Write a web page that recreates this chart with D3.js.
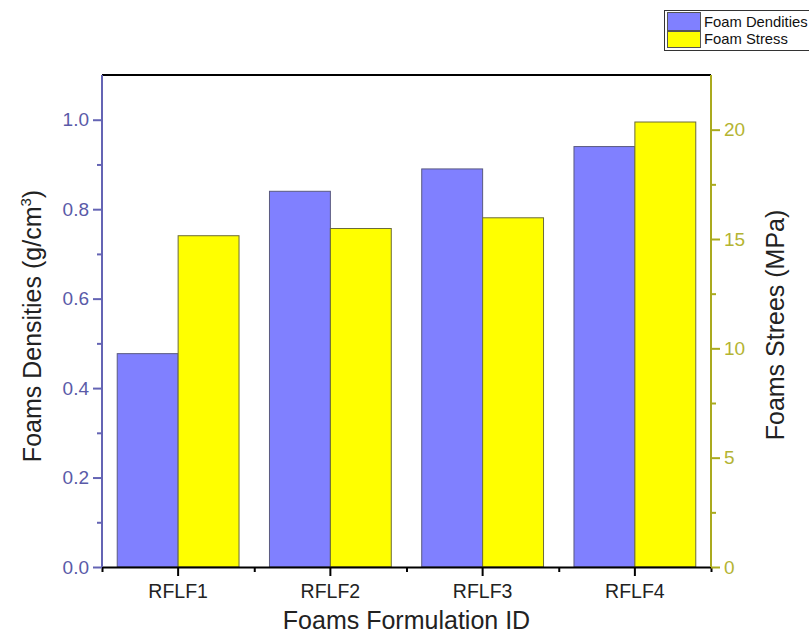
<!DOCTYPE html>
<html>
<head>
<meta charset="utf-8">
<script src="https://cdn.jsdelivr.net/npm/d3@7"></script>
<style>
  body { margin: 0; background: #fff; }
  svg text { font-family: "Liberation Sans", Arial, sans-serif; }
</style>
</head>
<body>
<div id="chart"></div>
<script>
// data
const categories = ["RFLF1", "RFLF2", "RFLF3", "RFLF4"];
const densities = [0.477, 0.84, 0.89, 0.94];   // g/cm3, left axis
const stresses = [15.15, 15.48, 15.97, 20.35]; // MPa, right axis
const densityTicks = [0, 0.2, 0.4, 0.6, 0.8, 1.0];
const stressTicks = [0, 5, 10, 15, 20];

const width = 809, height = 644;
const margin = {left: 102, right: 98, top: 75, bottom: 77};

const blue = "#8080ff", yellow = "#ffff00";
const leftCol = "#6464b4", leftText = "#5a5aa8";
const rightCol = "#aaaa1e", rightText = "#b4b432";

const svg = d3.select("#chart").append("svg")
    .attr("width", width).attr("height", height);

const x = d3.scaleBand()
    .domain(categories)
    .range([margin.left, width - margin.right])
    .paddingInner(0.2)
    .paddingOuter(0.1);

const inner = d3.scaleBand()
    .domain(["density", "stress"])
    .range([0, x.bandwidth()]);

const yL = d3.scaleLinear().domain([0, 1.1]).range([height - margin.bottom, margin.top]);
const yR = d3.scaleLinear().domain([0, 22.5]).range([height - margin.bottom, margin.top]);

const rows = categories.map((c, i) => ({cat: c, d: densities[i], s: stresses[i]}));

// bars
const g = svg.append("g");
g.selectAll(".bd").data(rows).enter().append("rect")
    .attr("x", d => x(d.cat) + inner("density"))
    .attr("y", d => yL(d.d))
    .attr("width", inner.bandwidth())
    .attr("height", d => yL(0) - yL(d.d))
    .attr("fill", blue)
    .attr("stroke", "#5a5a80")
    .attr("stroke-width", 1);

g.selectAll(".bs").data(rows).enter().append("rect")
    .attr("x", d => x(d.cat) + inner("stress"))
    .attr("y", d => yR(d.s))
    .attr("width", inner.bandwidth())
    .attr("height", d => yR(0) - yR(d.s))
    .attr("fill", yellow)
    .attr("stroke", "#6b6b3a")
    .attr("stroke-width", 1);

// top frame line
svg.append("line")
    .attr("x1", margin.left).attr("x2", width - margin.right)
    .attr("y1", margin.top).attr("y2", margin.top)
    .attr("stroke", "#000").attr("stroke-width", 2);

// bottom axis
const xMinor = d3.scaleLinear().domain([0, categories.length])
    .range([margin.left, width - margin.right]);
svg.append("g")
    .attr("transform", `translate(0,${height - margin.bottom})`)
    .call(d3.axisBottom(xMinor).ticks(categories.length).tickFormat("").tickSize(5).tickSizeOuter(0))
    .call(a => a.select(".domain").remove())
    .call(a => a.selectAll("line").attr("stroke", "#000").attr("stroke-width", 2));

const xAxis = svg.append("g")
    .attr("transform", `translate(0,${height - margin.bottom})`)
    .call(d3.axisBottom(x).tickSize(9).tickSizeOuter(0).tickPadding(8));
xAxis.select(".domain").attr("stroke", "#000").attr("stroke-width", 2);
xAxis.selectAll("line").attr("stroke", "#000").attr("stroke-width", 2);
xAxis.selectAll("text").attr("font-size", 19.5).attr("fill", "#222");

// left axis
svg.append("g")
    .attr("transform", `translate(${margin.left},0)`)
    .call(d3.axisLeft(yL).tickValues([0.1, 0.3, 0.5, 0.7, 0.9]).tickFormat("").tickSize(5).tickSizeOuter(0))
    .call(a => a.select(".domain").remove())
    .call(a => a.selectAll("line").attr("stroke", leftCol).attr("stroke-width", 2));

const leftAxis = svg.append("g")
    .attr("transform", `translate(${margin.left},0)`)
    .call(d3.axisLeft(yL).tickValues(densityTicks).tickFormat(d3.format(".1f"))
        .tickSize(9).tickSizeOuter(0).tickPadding(4));
leftAxis.select(".domain").attr("stroke", leftCol).attr("stroke-width", 2)
    .attr("d", `M0,${yL(0)}V${margin.top}`);
leftAxis.selectAll("line").attr("stroke", leftCol).attr("stroke-width", 2);
leftAxis.selectAll("text").attr("font-size", 19).attr("fill", leftText);

// right axis
const rx = width - margin.right;
svg.append("g")
    .attr("transform", `translate(${rx},0)`)
    .call(d3.axisRight(yR).tickValues([2.5, 7.5, 12.5, 17.5]).tickFormat("").tickSize(5).tickSizeOuter(0))
    .call(a => a.select(".domain").remove())
    .call(a => a.selectAll("line").attr("stroke", rightCol).attr("stroke-width", 2));

const rightAxis = svg.append("g")
    .attr("transform", `translate(${rx},0)`)
    .call(d3.axisRight(yR).tickValues(stressTicks)
        .tickSize(9).tickSizeOuter(0).tickPadding(4));
rightAxis.select(".domain").attr("stroke", rightCol).attr("stroke-width", 2)
    .attr("d", `M0,${yR(0)}V${margin.top}`);
rightAxis.selectAll("line").attr("stroke", rightCol).attr("stroke-width", 2);
rightAxis.selectAll("text").attr("font-size", 19).attr("fill", rightText);

// axis titles
svg.append("text")
    .attr("x", (margin.left + width - margin.right) / 2)
    .attr("y", 629)
    .attr("text-anchor", "middle")
    .attr("font-size", 25)
    .attr("fill", "#222")
    .text("Foams Formulation ID");

const lt = svg.append("text")
    .attr("transform", `translate(41,${(yL(0) + margin.top) / 2 + 5}) rotate(-90)`)
    .attr("text-anchor", "middle")
    .attr("font-size", 25)
    .attr("fill", "#222");
lt.append("tspan").text("Foams Densities (g/cm");
lt.append("tspan").attr("font-size", 15).attr("dy", -10).text("3");
lt.append("tspan").attr("dy", 10).text(")");

svg.append("text")
    .attr("transform", `translate(784,${(yR(0) + margin.top) / 2 + 4}) rotate(-90)`)
    .attr("text-anchor", "middle")
    .attr("font-size", 25)
    .attr("fill", "#222")
    .text("Foams Strees (MPa)");

// legend
const legend = svg.append("g");
legend.append("rect")
    .attr("x", 664.5).attr("y", 10.5).attr("width", 160).attr("height", 40)
    .attr("fill", "#fff").attr("stroke", "#333");
const legendItems = [
    {label: "Foam Dendities", color: blue, y: 12, h: 18},
    {label: "Foam Stress", color: yellow, y: 31, h: 16}
];
legend.selectAll(".sw").data(legendItems).enter().append("rect")
    .attr("x", 667.5).attr("y", d => d.y + 0.5)
    .attr("width", 33).attr("height", d => d.h)
    .attr("fill", d => d.color).attr("stroke", "#555");
legend.selectAll(".lt").data(legendItems).enter().append("text")
    .attr("x", 704).attr("y", d => d.y + d.h - 3)
    .attr("font-size", 14.8).attr("fill", "#111")
    .text(d => d.label);
</script>
</body>
</html>
